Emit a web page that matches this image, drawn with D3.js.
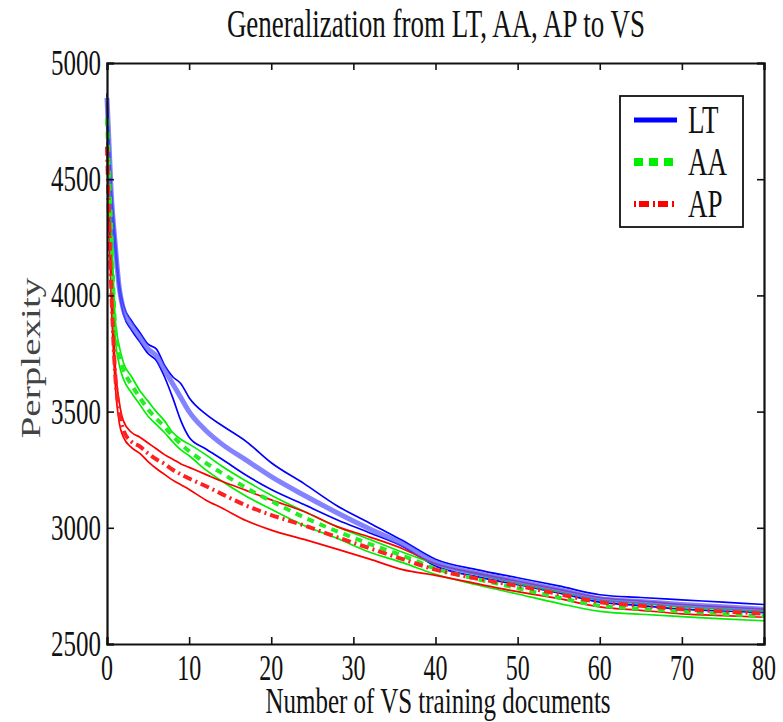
<!DOCTYPE html>
<html>
<head>
<meta charset="utf-8">
<script src="https://cdn.jsdelivr.net/npm/d3@7"></script>
<style>
    body { margin: 0; background: #fff; }
    svg text { font-family: "Liberation Serif", "Times New Roman", serif; fill: #111; }
</style>
</head>
<body>
<div id="my-dataviz"></div>
<script>
// number of VS training documents where values were read
const docs = [0, 0.5, 1, 1.5, 2, 3, 4, 5, 6, 7, 8, 9, 10, 12, 14, 17, 20, 24, 28, 32, 36, 40, 45, 50, 55, 60, 65, 70, 75, 80];

// LT (blue)
const ltHigh = [4870, 4480, 4250, 4050, 3960, 3890, 3840, 3790, 3770, 3700, 3650, 3620, 3560, 3490, 3440, 3370, 3280, 3190, 3095, 3020, 2945, 2865, 2820, 2785, 2750, 2712, 2700, 2690, 2680, 2670];
const ltMean = [4850, 4450, 4220, 4030, 3940, 3870, 3820, 3770, 3740, 3680, 3620, 3560, 3500, 3420, 3360, 3290, 3220, 3140, 3065, 2995, 2930, 2850, 2805, 2770, 2735, 2695, 2683, 2670, 2660, 2650];
const ltLow  = [4830, 4420, 4190, 4010, 3920, 3850, 3800, 3750, 3720, 3650, 3560, 3460, 3390, 3340, 3295, 3225, 3165, 3100, 3035, 2978, 2920, 2835, 2790, 2755, 2720, 2680, 2665, 2650, 2642, 2635];

// AA (green)
const aaHigh = [4780, 4350, 3900, 3780, 3710, 3650, 3590, 3545, 3500, 3460, 3410, 3380, 3360, 3315, 3265, 3200, 3140, 3070, 3005, 2950, 2895, 2845, 2800, 2760, 2725, 2690, 2675, 2660, 2650, 2640];
const aaMean = [4760, 4300, 3860, 3740, 3680, 3615, 3560, 3510, 3470, 3435, 3395, 3360, 3330, 3280, 3235, 3170, 3115, 3045, 2985, 2930, 2880, 2825, 2780, 2740, 2700, 2665, 2652, 2640, 2630, 2620];
const aaLow  = [4740, 4250, 3820, 3700, 3640, 3580, 3530, 3480, 3445, 3410, 3370, 3335, 3310, 3250, 3200, 3135, 3080, 3010, 2955, 2895, 2850, 2800, 2755, 2715, 2675, 2640, 2628, 2618, 2608, 2600];

// AP (red)
const apHigh = [4660, 4100, 3700, 3540, 3460, 3410, 3390, 3365, 3340, 3315, 3295, 3275, 3260, 3230, 3200, 3160, 3120, 3070, 3005, 2960, 2910, 2845, 2805, 2770, 2735, 2700, 2685, 2670, 2660, 2650];
const apMean = [4640, 4050, 3660, 3500, 3420, 3370, 3350, 3320, 3295, 3275, 3250, 3230, 3212, 3180, 3145, 3095, 3055, 3010, 2960, 2912, 2865, 2820, 2782, 2750, 2715, 2680, 2665, 2650, 2640, 2630];
const apLow  = [4620, 4000, 3620, 3450, 3390, 3345, 3320, 3285, 3255, 3230, 3205, 3185, 3165, 3120, 3085, 3030, 2990, 2950, 2908, 2865, 2820, 2795, 2760, 2725, 2695, 2660, 2645, 2630, 2622, 2615];

const xTicks = [0, 10, 20, 30, 40, 50, 60, 70, 80];
const yTicks = [2500, 3000, 3500, 4000, 4500, 5000];
const legendLabels = ["LT", "AA", "AP"];

const STRETCH = 1.45;

let margin = {top: 63, right: 19, bottom: 78, left: 107},
    width = 783 - margin.left - margin.right,
    height = 722 - margin.top - margin.bottom;

let root = d3.select("#my-dataviz")
    .append("svg")
    .attr("width", 783)
    .attr("height", 722);

let svg = root.append("g")
    .attr("transform", "translate(" + margin.left + "," + margin.top + ")");

let x = d3.scaleLinear().domain([0, 80]).range([0, width]);
let y = d3.scaleLinear().domain([2500, 5000]).range([height, 0]);

// text squeezed like the original figure (tall and narrow)
function tallText(parent, tx, ty, str, size, anchor, rotate) {
    let g = parent.append("g")
        .attr("transform", "translate(" + tx + "," + ty + ")" + (rotate ? " rotate(-90)" : ""));
    return g.append("text")
        .attr("transform", rotate ? "scale(" + STRETCH + ",1)" : "scale(1," + STRETCH + ")")
        .attr("text-anchor", anchor)
        .style("font-size", size + "px")
        .text(str);
}

// series
let series = [
    {high: ltHigh, mean: ltMean, low: ltLow, color: "#0000ff"},
    {high: aaHigh, mean: aaMean, low: aaLow, color: "#00ee00"},
    {high: apHigh, mean: apMean, low: apLow, color: "#ff0000"}
];

let line = d3.line()
    .curve(d3.curveMonotoneX)
    .x(function(d) { return x(d[0]); })
    .y(function(d) { return y(d[1]); });

function pairs(vals) {
    return docs.map(function(d, i) { return [d, vals[i]]; });
}

let plot = svg.append("g");

series.forEach(function(s) {
    [s.high, s.low].forEach(function(vals) {
        plot.append("path")
            .datum(pairs(vals))
            .attr("fill", "none")
            .attr("stroke", s.color)
            .attr("stroke-width", 1.7)
            .attr("d", line);
    });
});

// means
plot.append("path")
    .datum(pairs(ltMean))
    .attr("fill", "none")
    .attr("stroke", "#5a5aff")
    .attr("stroke-opacity", 0.75)
    .attr("stroke-width", 5)
    .attr("d", line);

plot.append("path")
    .datum(pairs(aaMean))
    .attr("fill", "none")
    .attr("stroke", "#22ee22")
    .attr("stroke-width", 4)
    .attr("stroke-dasharray", "7,6")
    .attr("d", line);

plot.append("path")
    .datum(pairs(apMean))
    .attr("fill", "none")
    .attr("stroke", "#ff2020")
    .attr("stroke-width", 4)
    .attr("stroke-dasharray", "9,4,2,4")
    .attr("d", line);

// frame with inward ticks on every side
svg.append("g")
    .attr("transform", "translate(0," + height + ")")
    .call(d3.axisBottom(x).tickValues(xTicks).tickSize(-7).tickFormat(""));
svg.append("g")
    .call(d3.axisTop(x).tickValues(xTicks).tickSize(-7).tickFormat(""));
svg.append("g")
    .call(d3.axisLeft(y).tickValues(yTicks).tickSize(-7).tickFormat(""));
svg.append("g")
    .attr("transform", "translate(" + width + ",0)")
    .call(d3.axisRight(y).tickValues(yTicks).tickSize(-7).tickFormat(""));
svg.selectAll(".domain").attr("stroke", "#111").attr("stroke-width", 2.2);
svg.selectAll(".tick line").attr("stroke", "#111").attr("stroke-width", 1.6);

// tick labels
xTicks.forEach(function(t) {
    tallText(svg, x(t), height + 36, String(t), 24, "middle");
});
yTicks.forEach(function(t) {
    tallText(svg, -6, y(t) + 12, String(t), 25, "end");
});

// titles
tallText(root, 436, 37, "Generalization from LT, AA, AP to VS", 27, "middle");
tallText(root, 438, 713, "Number of VS training documents", 25, "middle");
tallText(root, 40, 358, "Perplexity", 27, "middle", true).style("fill", "#444");

// legend
let legend = svg.append("g")
    .attr("transform", "translate(" + (620 - margin.left) + "," + (96 - margin.top) + ")");
legend.append("rect")
    .attr("width", 123)
    .attr("height", 131)
    .attr("fill", "#fff")
    .attr("stroke", "#111")
    .attr("stroke-width", 1.8);

let legendStyles = [
    {color: "#0000ff", dash: null, w: 5},
    {color: "#00ee00", dash: "9,6", w: 8},
    {color: "#ff0000", dash: "2,3,10,4", w: 6}
];
legendLabels.forEach(function(lbl, i) {
    let ly = 24 + i * 42;
    let st = legendStyles[i];
    legend.append("line")
        .attr("x1", 14).attr("x2", 57)
        .attr("y1", ly).attr("y2", ly)
        .attr("stroke", st.color)
        .attr("stroke-width", st.w)
        .attr("stroke-dasharray", st.dash);
    tallText(legend, 68, ly + 13, lbl, 27, "start");
});
</script>
</body>
</html>
